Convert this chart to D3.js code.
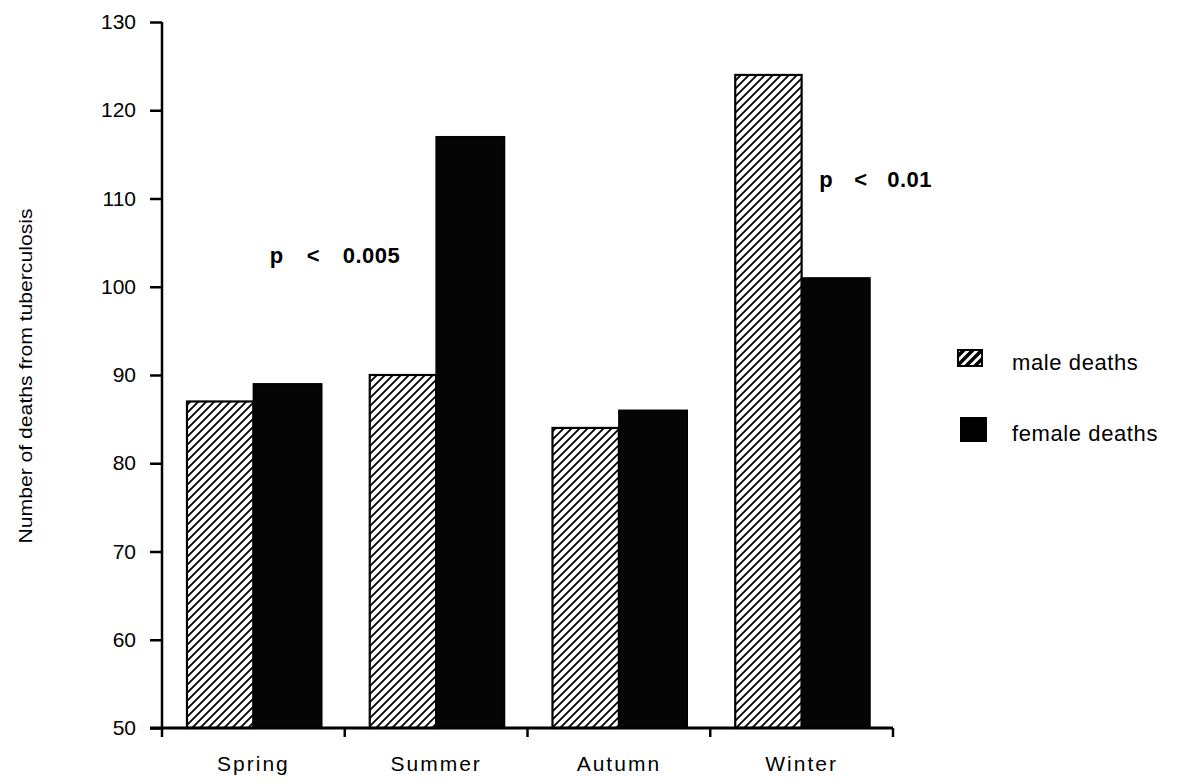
<!DOCTYPE html>
<html>
<head>
<meta charset="utf-8">
<script src="https://cdn.jsdelivr.net/npm/d3@7"></script>
<style>
  body { margin: 0; background: #fff; }
  svg { display: block; font-family: "Liberation Sans", Arial, sans-serif; }
</style>
</head>
<body>
<svg id="canvas"></svg>
<script>
const seasons = ['Spring', 'Summer', 'Autumn', 'Winter']
const maleDeaths = [87, 90, 84, 124]
const femaleDeaths = [89, 117, 86, 101]
const yTicks = [50, 60, 70, 80, 90, 100, 110, 120, 130]
// each note is drawn as three pieces: "p", "<", p-value
const notes = [
    { parts: ['p', '<', '0.005'], season: 'Summer', value: 102.7, dx: [-75, -38, -2] },
    { parts: ['p', '<', '0.01'], season: 'Winter', value: 111.3, dx: [109, 144, 177] }
]
const legendItems = ['male deaths', 'female deaths']

const W = 1181, H = 782
const svg = d3.select('#canvas').attr('width', W).attr('height', H)

const x = d3.scaleBand().domain(seasons).range([162, 893]).paddingInner(0).paddingOuter(0)
const y = d3.scaleLinear().domain([50, 130]).range([728, 22])

// hatch patterns for the male bars and legend swatch
const defs = svg.append('defs')
const hatch = defs.append('pattern')
    .attr('id', 'hatch')
    .attr('patternUnits', 'userSpaceOnUse')
    .attr('width', 8).attr('height', 8)
hatch.append('rect').attr('width', 8).attr('height', 8).attr('fill', '#fff')
hatch.append('path')
    .attr('d', 'M-2,10 L10,-2 M-2,2 L2,-2 M6,10 L10,6')
    .attr('stroke', '#000').attr('stroke-width', 1.8)

const hatchBig = defs.append('pattern')
    .attr('id', 'hatchBig')
    .attr('patternUnits', 'userSpaceOnUse')
    .attr('width', 9).attr('height', 9)
hatchBig.append('rect').attr('width', 9).attr('height', 9).attr('fill', '#fff')
hatchBig.append('path')
    .attr('d', 'M-2,11 L11,-2 M-2,2 L2,-2 M7,11 L11,7')
    .attr('stroke', '#000').attr('stroke-width', 3.5)

const groupPad = 25
const barW = (x.bandwidth() - 2 * groupPad) / 2

const g = svg.append('g')

// bars
g.selectAll('rect.male')
    .data(seasons)
    .enter()
    .append('rect')
        .attr('class', 'male')
        .attr('x', d => x(d) + groupPad)
        .attr('y', (d, i) => y(maleDeaths[i]))
        .attr('width', barW)
        .attr('height', (d, i) => y(50) - y(maleDeaths[i]))
        .attr('fill', 'url(#hatch)')
        .attr('stroke', '#000')
        .attr('stroke-width', 2.2)

g.selectAll('rect.female')
    .data(seasons)
    .enter()
    .append('rect')
        .attr('class', 'female')
        .attr('x', d => x(d) + groupPad + barW)
        .attr('y', (d, i) => y(femaleDeaths[i]))
        .attr('width', barW + 2)
        .attr('height', (d, i) => y(50) - y(femaleDeaths[i]))
        .attr('fill', '#050505')
        .attr('stroke', '#000')
        .attr('stroke-width', 1.5)

// y axis
const yAxis = d3.axisLeft(y).tickValues(yTicks).tickSize(12).tickPadding(14)
const yG = svg.append('g').attr('transform', 'translate(162,0)').call(yAxis)
yG.select('.domain').attr('stroke-width', 2.5).attr('d', `M0,${y(130)}V${y(50)}`)
yG.selectAll('.tick line').attr('stroke-width', 2.5)
yG.selectAll('.tick text')
    .attr('font-size', 21)
    .attr('font-family', '"Liberation Sans", Arial, sans-serif')
    .attr('fill', '#000')

// x axis
const xAxis = d3.axisBottom(x).tickSize(0).tickPadding(28)
const xG = svg.append('g').attr('transform', `translate(0,${y(50)})`).call(xAxis)
xG.select('.domain').attr('stroke-width', 3).attr('d', `M150,0H893`)
xG.selectAll('.tick text')
    .attr('font-size', 21)
    .attr('letter-spacing', 2)
    .attr('font-family', '"Liberation Sans", Arial, sans-serif')
    .attr('fill', '#000')
const boundaries = seasons.map(s => x(s)).concat([x.range()[1]])
xG.selectAll('line.bound')
    .data(boundaries)
    .enter()
    .append('line')
        .attr('class', 'bound')
        .attr('x1', d => d).attr('x2', d => d)
        .attr('y1', 0).attr('y2', 9)
        .attr('stroke', '#000').attr('stroke-width', 2.5)

// y axis title
svg.append('text')
    .attr('transform', 'translate(32,376) rotate(-90)')
    .attr('text-anchor', 'middle')
    .attr('font-size', 18)
    .attr('textLength', 335)
    .attr('lengthAdjust', 'spacingAndGlyphs')
    .text('Number of deaths from tuberculosis')

// significance notes
const noteG = svg.selectAll('g.note')
    .data(notes)
    .enter()
    .append('g')
        .attr('class', 'note')
        .attr('font-size', 22)
        .attr('font-weight', 'bold')
noteG.selectAll('text')
    .data(d => d.parts.map((p, k) => ({ p, x: x(d.season) + d.dx[k], y: y(d.value) })))
    .enter()
    .append('text')
        .attr('x', d => d.x)
        .attr('y', d => d.y)
        .attr('letter-spacing', 0.5)
        .text(d => d.p)

// legend
const legend = svg.append('g')
legend.append('rect')
    .attr('x', 958).attr('y', 350).attr('width', 24).attr('height', 16)
    .attr('fill', 'url(#hatchBig)').attr('stroke', '#000').attr('stroke-width', 2)
legend.append('rect')
    .attr('x', 960).attr('y', 417).attr('width', 27).attr('height', 25)
    .attr('fill', '#000')
legend.selectAll('text')
    .data(legendItems)
    .enter()
    .append('text')
        .attr('x', 1012)
        .attr('y', (d, i) => i === 0 ? 370 : 441)
        .attr('font-size', 22)
        .attr('letter-spacing', 0.6)
        .text(d => d)
</script>
</body>
</html>
